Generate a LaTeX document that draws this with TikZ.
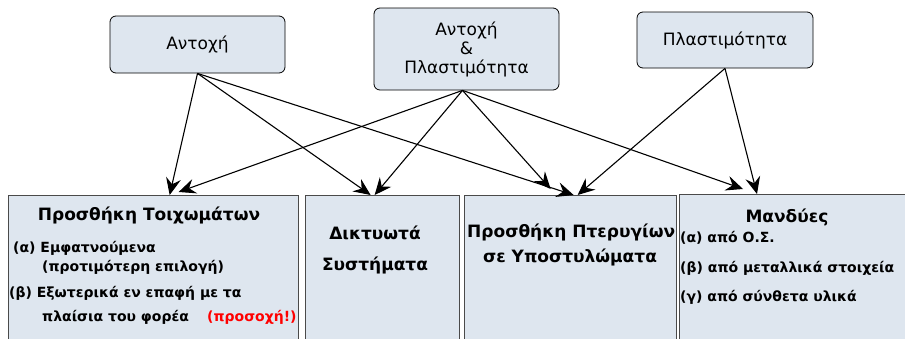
\documentclass[tikz,border=0pt]{standalone}
\usepackage{fontspec}
\setmainfont{DejaVu Sans}
\usetikzlibrary{arrows.meta}
\definecolor{boxfill}{HTML}{DEE6EF}
\definecolor{boxline}{HTML}{4A4A4A}
\tikzset{
  topbox/.style={draw=black, line width=0.8pt, fill=boxfill, rounded corners=6pt,
    inner sep=0pt, font=\fontsize{17}{21}\selectfont, align=center},
  basebox/.style={draw=boxline, line width=1.3pt, fill=boxfill, inner sep=0pt,
    anchor=north west, minimum height=170pt},
  head/.style={inner sep=0pt, font=\fontsize{17}{20}\selectfont\bfseries},
  item/.style={inner sep=0pt, anchor=west, font=\fontsize{14}{17}\selectfont\bfseries},
  link/.style={-{Stealth[length=17pt,width=15pt,inset=6pt]}, line width=1.1pt}
}
\begin{document}
\begin{tikzpicture}[x=1pt,y=-1pt]
    \useasboundingbox (0,0) rectangle (905,338);
    \clip (0,0) rectangle (905,338);
    % top row
    \node[topbox, minimum width=175pt, minimum height=57pt] (ant) at (197.5,44.5) {Αντοχή};
    \node[topbox, minimum width=185pt, minimum height=82pt] (antpl) at (466.5,49) {Αντοχή\\[-2pt]\&\\[-2pt]Πλαστιμότητα};
    \node[topbox, minimum width=176pt, minimum height=56pt] (pl) at (725,40) {Πλαστιμότητα};
    % bottom row
    \node[basebox, minimum width=290pt] (toix) at (8,195) {};
    \node[basebox, minimum width=154pt] (dikt) at (305,195) {};
    \node[basebox, minimum width=212pt] (pter) at (464,195) {};
    \node[basebox, minimum width=241pt] (mand) at (679,194) {};
    % texts
    \node[head] (toixt) at (149,215) {Προσθήκη Τοιχωμάτων};
    \node[item] (toixa) at (13,248) {(α) Εμφατνούμενα};
    \node[item] (toixa2) at (42,267) {(προτιμότερη επιλογή)};
    \node[item] (toixb) at (9,293) {(β) Εξωτερικά εν επαφή με τα};
    \node[item] (toixb2) at (42,317) {πλαίσια του φορέα};
    \node[item, text=red] (toixc) at (207,317) {(προσοχή!)};
    \node[head] (diktt) at (375,233) {Δικτυωτά};
    \node[head] (diktt2) at (375,265) {Συστήματα};
    \node[head, anchor=west] (ptert) at (467,232) {Προσθήκη Πτερυγίων};
    \node[head] (ptert2) at (570,257) {σε Υποστυλώματα};
    \node[head] (mandt) at (787,217) {Μανδύες};
    \node[item] (manda) at (680,238) {(α) από Ο.Σ.};
    \node[item] (mandb) at (680,268) {(β) από μεταλλικά στοιχεία};
    \node[item] (mandc) at (680,297) {(γ) από σύνθετα υλικά};
    % arrows
    \draw[link] (ant.south) -- ([xshift=16pt]toix.north);
    \draw[link] (ant.south) -- ([xshift=-12pt]dikt.north);
    \draw[link] (ant.south) -- ([xshift=3pt]pter.north);
    \draw[link] ([xshift=-4pt]antpl.south) -- ([xshift=25pt,yshift=3pt]toix.north);
    \draw[link] ([xshift=-4pt]antpl.south) -- ([xshift=-8pt]dikt.north);
    \draw[link] ([xshift=-4pt]antpl.south) -- ([xshift=-20pt,yshift=6pt]pter.north);
    \draw[link] ([xshift=-4pt]antpl.south) -- ([xshift=64pt,yshift=5pt]mand.north west);
    \draw[link] (pl.south) -- ([xshift=7pt]pter.north);
    \draw[link] (pl.south) -- ([xshift=78pt]mand.north west);
  \end{tikzpicture}
\end{document}
